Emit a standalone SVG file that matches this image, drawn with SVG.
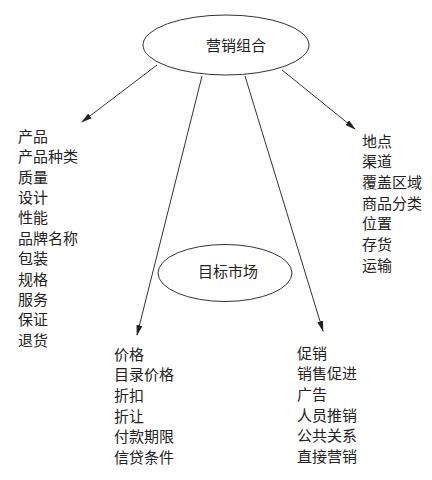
<svg xmlns="http://www.w3.org/2000/svg" width="432" height="480" viewBox="0 0 432 480">
<style>
text{font-family:"Noto Sans CJK SC","Noto Sans",sans-serif;font-size:15px;fill:#222}
.e{fill:#fff;stroke:#333;stroke-width:1}
.c line{stroke:#333;stroke-width:1;marker-end:url(#ah)}
</style>
<defs>
<marker id="ah" markerUnits="userSpaceOnUse" markerWidth="11" markerHeight="6" refX="10" refY="3" orient="auto">
<path d="M0,0 L11,3 L0,6 z" fill="#222"/>
</marker>
</defs>
<rect width="432" height="480" fill="#fff"/>
<g class="c" id="connectors">
<line x1="157" y1="65" x2="82" y2="122"/>
<line x1="202" y1="76" x2="137" y2="335"/>
<line x1="245" y1="76" x2="323" y2="331"/>
<line x1="282" y1="70" x2="355" y2="129"/>
</g>
<g id="marketing-mix">
<ellipse class="e" cx="226" cy="45" rx="83" ry="30"/>
<text x="236" y="50.5" text-anchor="middle">营销组合</text>
</g>
<g id="target-market">
<ellipse class="e" cx="225" cy="273" rx="67" ry="28.5"/>
<text x="228" y="276.5" text-anchor="middle">目标市场</text>
</g>
<g id="product">
<text x="18" y="142">产品</text>
<text x="18" y="162.4">产品种类</text>
<text x="18" y="182.7">质量</text>
<text x="18" y="203">设计</text>
<text x="18" y="223.4">性能</text>
<text x="18" y="243.8">品牌名称</text>
<text x="18" y="264.1">包装</text>
<text x="18" y="284.5">规格</text>
<text x="18" y="304.8">服务</text>
<text x="18" y="325.2">保证</text>
<text x="18" y="345.5">退货</text>
</g>
<g id="place">
<text x="362" y="146.5">地点</text>
<text x="362" y="167.2">渠道</text>
<text x="362" y="187.9">覆盖区域</text>
<text x="362" y="208.6">商品分类</text>
<text x="362" y="229.3">位置</text>
<text x="362" y="250">存货</text>
<text x="362" y="270.7">运输</text>
</g>
<g id="price">
<text x="114" y="359.5">价格</text>
<text x="114" y="380.2">目录价格</text>
<text x="114" y="400.9">折扣</text>
<text x="114" y="421.6">折让</text>
<text x="114" y="442.3">付款期限</text>
<text x="114" y="463">信贷条件</text>
</g>
<g id="promotion">
<text x="297" y="358.5">促销</text>
<text x="297" y="379.2">销售促进</text>
<text x="297" y="399.9">广告</text>
<text x="297" y="420.6">人员推销</text>
<text x="297" y="441.3">公共关系</text>
<text x="297" y="462">直接营销</text>
</g>
</svg>
